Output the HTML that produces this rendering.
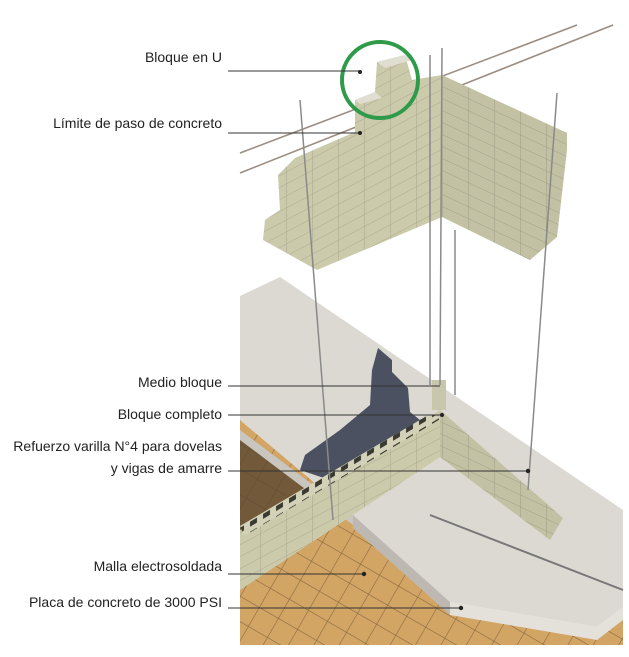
<!DOCTYPE html>
<html><head><meta charset="utf-8"><style>
html,body{margin:0;padding:0;background:#fff;}
#c{position:relative;width:629px;height:657px;overflow:hidden;font-family:"Liberation Sans",sans-serif;}
.l{position:absolute;font-size:14px;color:#222;text-align:right;right:407px;white-space:nowrap;line-height:22px;}
svg{position:absolute;left:0;top:0;}
</style></head><body><div id="c">
<svg width="629" height="657" viewBox="0 0 629 657">
<defs>
<pattern id="grid" width="22" height="22" patternUnits="userSpaceOnUse" patternTransform="rotate(30)">
<rect width="22" height="22" fill="#d2a565"/>
<path d="M0 0H22M0 0V22" stroke="#8a6a3e" stroke-width="1.2"/>
</pattern>
<pattern id="blk" width="26" height="12" patternUnits="userSpaceOnUse" patternTransform="skewY(-28)">
<rect width="26" height="12" fill="#cbcaab"/>
<path d="M0 0H26M0 0V12" stroke="#a9a78e" stroke-width="1"/>
</pattern>
<pattern id="blk2" width="26" height="12" patternUnits="userSpaceOnUse" patternTransform="skewY(25)">
<rect width="26" height="12" fill="#c2c1a3"/>
<path d="M0 0H26M0 0V12" stroke="#9f9d85" stroke-width="1"/>
</pattern>
<pattern id="holes" width="13" height="10" patternUnits="userSpaceOnUse" patternTransform="skewY(-31)">
<rect width="13" height="10" fill="#d3d2b8"/>
<rect x="3" y="2" width="7" height="5" fill="#3a3a32"/>
</pattern>
</defs>
<!-- soil -->
<polygon points="240,420 353,515 455,610 600,630 623,612 623,645 240,645" fill="url(#grid)"/>
<polygon points="240,440 330,500 300,530 240,530" fill="#5a4630" opacity="0.8"/>
<!-- slab -->
<polygon points="240,296 280,277 623,510 623,607 597,627 450,602 353,515 240,420" fill="#dcd8d2"/>
<polygon points="240,296 240,430 353,515 353,525 240,440" fill="#c9c5bf"/>
<polygon points="353,515 450,602 450,615 353,528" fill="#bdb8b1"/>
<polygon points="450,602 597,627 623,607 623,620 597,640 450,615" fill="#e4e0da"/>
<!-- shadow -->
<polygon points="378,348 392,360 392,372 408,388 410,412 420,420 330,480 300,470 305,455 340,430 370,405 372,370" fill="#3c4354" opacity="0.9"/>
<!-- lower wall -->
<polygon points="240,530 430,417 440,410 440,457 240,590" fill="url(#blk)"/>
<polygon points="240,526 430,414 442,418 244,536" fill="url(#holes)"/>
<polygon points="440,410 563,518 550,540 440,457" fill="url(#blk2)"/>
<line x1="430" y1="515" x2="623" y2="590" stroke="#777" stroke-width="2"/>
<rect x="432" y="380" width="14" height="30" fill="#c8c6ab"/>
<!-- rails -->
<g stroke="#9a8c80" stroke-width="1.6">
<line x1="240" y1="153" x2="577" y2="25"/><line x1="240" y1="173" x2="613" y2="25"/>
</g>
<!-- upper wall -->
<polygon points="442,75 567,133 567,150 557,237 530,260 442,217" fill="url(#blk2)"/>
<polygon points="295,158 355,132 355,100 375,92 377,62 405,55 412,80 442,75 442,217 317,270 263,240 265,220 280,210 278,175" fill="url(#blk)"/>
<polygon points="377,62 405,55 412,60 385,68" fill="#e0ded0"/>
<polygon points="355,100 375,92 382,98 360,104" fill="#e0ded0"/>
<!-- rods -->
<g stroke="#8a8a8a" stroke-width="1.5" fill="none">
<line x1="300" y1="100" x2="333" y2="520"/><line x1="430" y1="55" x2="430" y2="385"/>
<line x1="442" y1="48" x2="440" y2="385"/><line x1="455" y1="230" x2="455" y2="395"/>
<line x1="557" y1="93" x2="528" y2="490"/>
</g>
<circle cx="380" cy="80" r="38" fill="none" stroke="#2e9a4a" stroke-width="4"/>
<!-- leader lines -->
<g stroke="#333" stroke-width="1">
<line x1="228" y1="71" x2="360" y2="71"/><line x1="228" y1="133" x2="360" y2="133"/>
<line x1="228" y1="386" x2="440" y2="386"/><line x1="228" y1="415" x2="442" y2="415"/>
<line x1="228" y1="471" x2="528" y2="471"/><line x1="228" y1="574" x2="364" y2="574"/>
<line x1="228" y1="608" x2="461" y2="608"/>
</g>
<g fill="#222"><circle cx="360" cy="72" r="2"/><circle cx="360" cy="133" r="2"/><circle cx="442" cy="415" r="2"/><circle cx="528" cy="471" r="2.2"/><circle cx="364" cy="574" r="2.2"/><circle cx="461" cy="608" r="2.2"/></g>
</svg>
<div class="l" style="top:46px">Bloque en U</div>
<div class="l" style="top:112px">Límite de paso de concreto</div>
<div class="l" style="top:371px">Medio bloque</div>
<div class="l" style="top:403px">Bloque completo</div>
<div class="l" style="top:435px">Refuerzo varilla N°4 para dovelas<br>y vigas de amarre</div>
<div class="l" style="top:555px">Malla electrosoldada</div>
<div class="l" style="top:591px">Placa de concreto de 3000 PSI</div>
</div></body></html>
